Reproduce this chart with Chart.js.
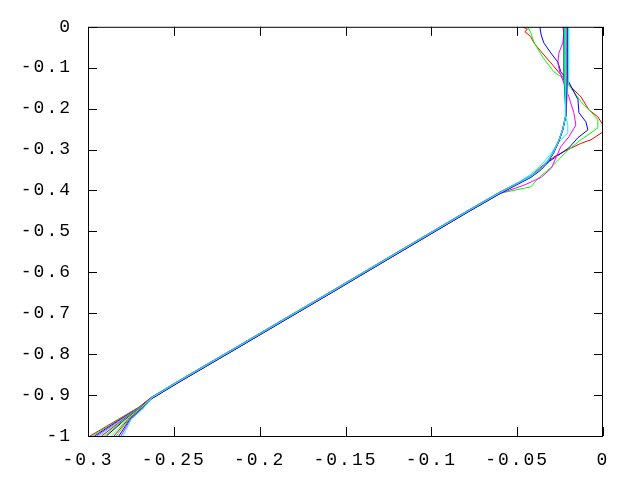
<!DOCTYPE html>
<html>
<head>
<meta charset="utf-8">
<script src="https://cdn.jsdelivr.net/npm/chart.js@4.4.0/dist/chart.umd.min.js"></script>
<style>
  html, body { margin: 0; padding: 0; background: #fff; }
  #wrap { width: 640px; height: 480px; }
</style>
</head>
<body>
<div id="wrap"><canvas id="profileChart"></canvas></div>
<script>
// tick values
const xTicks = [-0.3, -0.25, -0.2, -0.15, -0.1, -0.05, 0];
const yTicks = [0, -0.1, -0.2, -0.3, -0.4, -0.5, -0.6, -0.7, -0.8, -0.9, -1];

const lineColors = ['#ff0000', '#00ff00', '#0000ff', '#ff00ff', '#00ffff',
                    '#ff0000', '#00ff00', '#0000ff', '#ffff00', '#00ffff',
                    '#ff0000', '#00ff00', '#0000ff', '#ff00ff', '#00ffff'];

// bottom fan, one value per curve (y = -1, -0.96, -0.93)
const fanY = [-1, -0.96, -0.93];
const fanEndX  = [-0.2988, -0.2976, -0.2962, -0.2950, -0.2936, -0.2921, -0.2905, -0.2893, -0.2878, -0.2862, -0.2848, -0.2835, -0.2820, -0.2808, -0.2795];
const fanMidX  = [-0.2826, -0.2820, -0.2814, -0.2808, -0.2802, -0.2796, -0.2790, -0.2784, -0.2778, -0.2773, -0.2768, -0.2763, -0.2758, -0.2754, -0.2750];
const fanNearX = [-0.2705, -0.2703, -0.2701, -0.2699, -0.2697, -0.2694, -0.2692, -0.2689, -0.2687, -0.2684, -0.2682, -0.2679, -0.2677, -0.2675, -0.2672];

// common straight part, plus each curve's small offset within the band
const trunkX = [-0.2630, -0.2468, -0.2117, -0.1854, -0.1590, -0.1240, -0.1123, -0.0772, -0.0597];
const trunkY = [-0.907, -0.866, -0.780, -0.715, -0.650, -0.563, -0.534, -0.447, -0.405];
const trunkShiftY = [0.002, -0.0015, 0.001, -0.002, 0.0005, 0.0015, -0.001, 0.000, -0.0005, 0.002, -0.0015, 0.001, -0.002, 0.0005, 0.000];

// bend into the vertical part (settled curves)
const bendX = [-0.052, -0.042, -0.036, -0.032, -0.0286, -0.0257, -0.0234, -0.0216];
const bendY = [-0.388, -0.366, -0.347, -0.328, -0.305, -0.278, -0.250, -0.215];
const settledTopX = [-0.0222, -0.0205, -0.0228, -0.0212, -0.0200, -0.0218, -0.0225, -0.0208, -0.0215, -0.0219];

// early curves with their own upper part
const redTopX = [-0.048, -0.042, -0.0360, -0.0286, -0.0205, -0.0129, -0.0070, 0.0000, 0.0000, -0.0030, -0.0082, -0.0129, -0.0187, -0.0246, -0.0304, -0.0360, -0.0403, -0.0421, -0.0455, -0.0440, -0.0468];
const redTopY = [-0.380, -0.364, -0.342, -0.318, -0.300, -0.285, -0.276, -0.257, -0.240, -0.220, -0.203, -0.171, -0.147, -0.117, -0.088, -0.061, -0.039, -0.024, -0.012, -0.006, 0];
const greenTopX = [-0.0420, -0.0380, -0.0304, -0.0200, -0.0129, -0.0070, -0.0030, -0.0030, -0.0070, -0.0129, -0.0199, -0.0246, -0.0286, -0.0350, -0.0403, -0.0420, -0.0439];
const greenTopY = [-0.391, -0.371, -0.344, -0.300, -0.276, -0.259, -0.247, -0.227, -0.208, -0.183, -0.142, -0.122, -0.110, -0.075, -0.037, -0.015, 0];
const blueTopX = [-0.046, -0.038, -0.0310, -0.0199, -0.0146, -0.0088, -0.0100, -0.0140, -0.0146, -0.0200, -0.0246, -0.0263, -0.0304, -0.0345, -0.0360, -0.0368];
const blueTopY = [-0.376, -0.354, -0.328, -0.296, -0.271, -0.252, -0.232, -0.210, -0.178, -0.134, -0.110, -0.086, -0.064, -0.039, -0.020, 0];
const magentaTopX = [-0.046, -0.036, -0.0300, -0.0246, -0.0199, -0.0158, -0.0170, -0.0199, -0.0228, -0.0251, -0.0263, -0.0257, -0.0234, -0.0228, -0.0234];
const magentaTopY = [-0.387, -0.368, -0.345, -0.293, -0.269, -0.240, -0.210, -0.171, -0.137, -0.112, -0.088, -0.064, -0.039, -0.015, 0];
const cyanTopX = [-0.050, -0.042, -0.036, -0.030, -0.0263, -0.0205, -0.0205, -0.0216, -0.0214, -0.0216];
const cyanTopY = [-0.383, -0.360, -0.338, -0.308, -0.284, -0.259, -0.240, -0.220, -0.100, 0];

const earlyTops = [
  [redTopX, redTopY],
  [greenTopX, greenTopY],
  [blueTopX, blueTopY],
  [magentaTopX, magentaTopY],
  [cyanTopX, cyanTopY]
];

function zip(xs, ys) {
  return xs.map((x, i) => ({ x: x, y: ys[i] }));
}

function buildCurve(i) {
  const dy = trunkShiftY[i];
  let pts = zip([fanEndX[i], fanMidX[i], fanNearX[i]], fanY);
  pts = pts.concat(zip(trunkX, trunkY.map(y => y + dy)));
  if (i < earlyTops.length) {
    pts = pts.concat(zip(earlyTops[i][0], earlyTops[i][1]));
  } else {
    const tx = settledTopX[i - earlyTops.length];
    pts = pts.concat(zip(bendX, bendY.map(y => y + dy)));
    pts.push({ x: tx, y: -0.12 });
    pts.push({ x: tx, y: 0 });
  }
  return pts;
}

const datasets = fanEndX.map((_, i) => ({
  data: buildCurve(i),
  borderColor: lineColors[i],
  borderWidth: 1,
  pointRadius: 0,
  showLine: true,
  fill: false,
  tension: 0,
  order: fanEndX.length - i   // later curves drawn on top
}));

function fmt(v) {
  const n = +Number(v).toFixed(2);
  return n === 0 ? '0' : String(n);
}

// gnuplot style frame with inward ticks on all sides
const framePlugin = {
  id: 'frame',
  beforeDraw(chart) {
    chart.ctx.letterSpacing = '2px';
  },
  afterDraw(chart) {
    const { ctx, chartArea: a, scales } = chart;
    ctx.save();
    ctx.strokeStyle = '#000';
    ctx.lineWidth = 1;
    ctx.beginPath();
    ctx.rect(a.left + 0.5, a.top + 0.5, a.right - a.left - 1, a.bottom - a.top);
    xTicks.forEach(v => {
      const px = Math.round(scales.x.getPixelForValue(v)) + 0.5;
      ctx.moveTo(px, a.bottom);
      ctx.lineTo(px, a.bottom - 9);
      ctx.moveTo(px, a.top);
      ctx.lineTo(px, a.top + 9);
    });
    yTicks.forEach(v => {
      const py = Math.round(scales.y.getPixelForValue(v)) + 0.5;
      ctx.moveTo(a.left, py);
      ctx.lineTo(a.left + 9, py);
      ctx.moveTo(a.right, py);
      ctx.lineTo(a.right - 9, py);
    });
    ctx.stroke();
    ctx.restore();
  }
};

const tickFont = { family: "'Liberation Mono', 'DejaVu Sans Mono', monospace", size: 18 };

new Chart(document.getElementById('profileChart').getContext('2d'), {
  type: 'scatter',
  data: { datasets: datasets },
  options: {
    responsive: true,
    maintainAspectRatio: false,
    animation: false,
    layout: { padding: { left: 0, right: 37, top: 25, bottom: 0 } },
    plugins: {
      legend: { display: false },
      tooltip: { enabled: false }
    },
    scales: {
      x: {
        type: 'linear',
        min: -0.3,
        max: 0,
        afterBuildTicks: s => { s.ticks = xTicks.map(v => ({ value: v })); },
        afterFit: s => { s.height = 44; },
        grid: { display: false, drawTicks: false },
        border: { display: false },
        ticks: { color: '#000', font: tickFont, padding: 13, maxRotation: 0, autoSkip: false, callback: fmt }
      },
      y: {
        type: 'linear',
        min: -1,
        max: 0,
        afterBuildTicks: s => { s.ticks = yTicks.map(v => ({ value: v })); },
        afterFit: s => { s.width = 88; },
        grid: { display: false, drawTicks: false },
        border: { display: false },
        ticks: { color: '#000', font: tickFont, padding: 16, autoSkip: false, callback: fmt }
      }
    }
  },
  plugins: [framePlugin]
});
</script>
</body>
</html>
